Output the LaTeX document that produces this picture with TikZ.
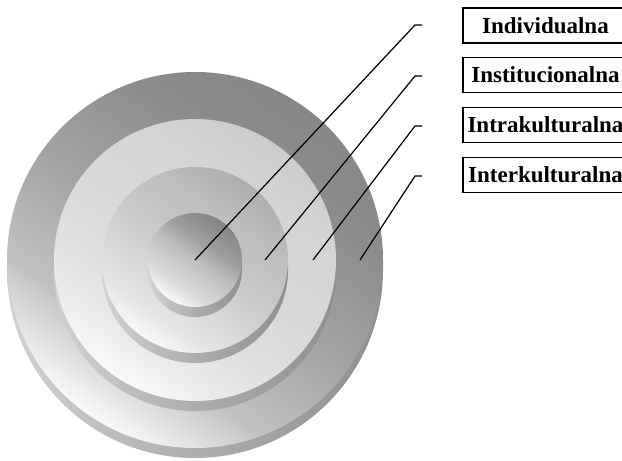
\documentclass[tikz,border=0pt]{standalone}
\usepackage{fontspec}
\setmainfont{Liberation Serif}
\pgfdeclareverticalshading{dOne}{100bp}{color(0bp)=(black!2); color(25bp)=(black!2); color(30bp)=(black!12); color(36bp)=(black!24); color(50bp)=(black!36); color(65bp)=(black!45); color(75bp)=(black!47); color(100bp)=(black!47)}
\pgfdeclareverticalshading{dThree}{100bp}{color(0bp)=(black!2); color(25bp)=(black!2); color(32bp)=(black!8); color(40bp)=(black!12); color(50bp)=(black!15); color(65bp)=(black!17); color(75bp)=(black!20); color(100bp)=(black!20)}
\pgfdeclareverticalshading{dTwo}{100bp}{color(0bp)=(black!3); color(25bp)=(black!3); color(32bp)=(black!10); color(40bp)=(black!15); color(50bp)=(black!21); color(65bp)=(black!26); color(75bp)=(black!32); color(100bp)=(black!32)}
\pgfdeclareverticalshading{dFour}{100bp}{color(0bp)=(black!3); color(25bp)=(black!3); color(35bp)=(black!15); color(45bp)=(black!22); color(50bp)=(black!25); color(60bp)=(black!38); color(75bp)=(black!48); color(100bp)=(black!48)}
\pgfdeclarehorizontalshading{sideS}{100bp}{color(0bp)=(black!18); color(25bp)=(black!18); color(50bp)=(black!32); color(75bp)=(black!44); color(100bp)=(black!44)}
\begin{document}
\begin{tikzpicture}[x=1pt,y=1pt,
  lead/.style={line width=1.2pt},
  lbl/.style={draw, line width=1.4pt, minimum width=165pt, minimum height=35pt, inner sep=0pt,
    font=\fontsize{23}{27}\selectfont\bfseries, text height=15.5pt, text depth=0pt}]
\useasboundingbox (0,0) rectangle (622,461);
\clip (0,0) rectangle (622,461);
\coordinate (c) at (195,201);
\foreach \r/\sh in {188/dOne,141/dThree,93/dTwo,47/dFour} {
  \shade[shading=sideS] (195-\r,201) -- ++(0,-10) arc[start angle=180,end angle=360,radius=\r] -- ++(0,10) -- cycle;
  \shade[shading=\sh, shading angle=-35] (c) circle[radius=\r];
}
% leader lines
\coordinate (s1) at (195,201); \coordinate (k1) at (415,436); \coordinate (e1) at (422,436);
\coordinate (s2) at (265,201); \coordinate (k2) at (415,385); \coordinate (e2) at (422,385);
\coordinate (s3) at (313,201); \coordinate (k3) at (415,335); \coordinate (e3) at (422,335);
\coordinate (s4) at (360,201); \coordinate (k4) at (415,285); \coordinate (e4) at (422,285);
\draw[lead] (s1) -- (k1) -- (e1);
\draw[lead] (s2) -- (k2) -- (e2);
\draw[lead] (s3) -- (k3) -- (e3);
\draw[lead] (s4) -- (k4) -- (e4);
% labels
\node[lbl] (b1) at (545.5,435.5) {Individualna};
\node[lbl] (b2) at (545.5,386) {Institucionalna};
\node[lbl] (b3) at (545.5,336) {Intrakulturalna};
\node[lbl] (b4) at (545.5,286) {Interkulturalna};
\end{tikzpicture}
\end{document}
